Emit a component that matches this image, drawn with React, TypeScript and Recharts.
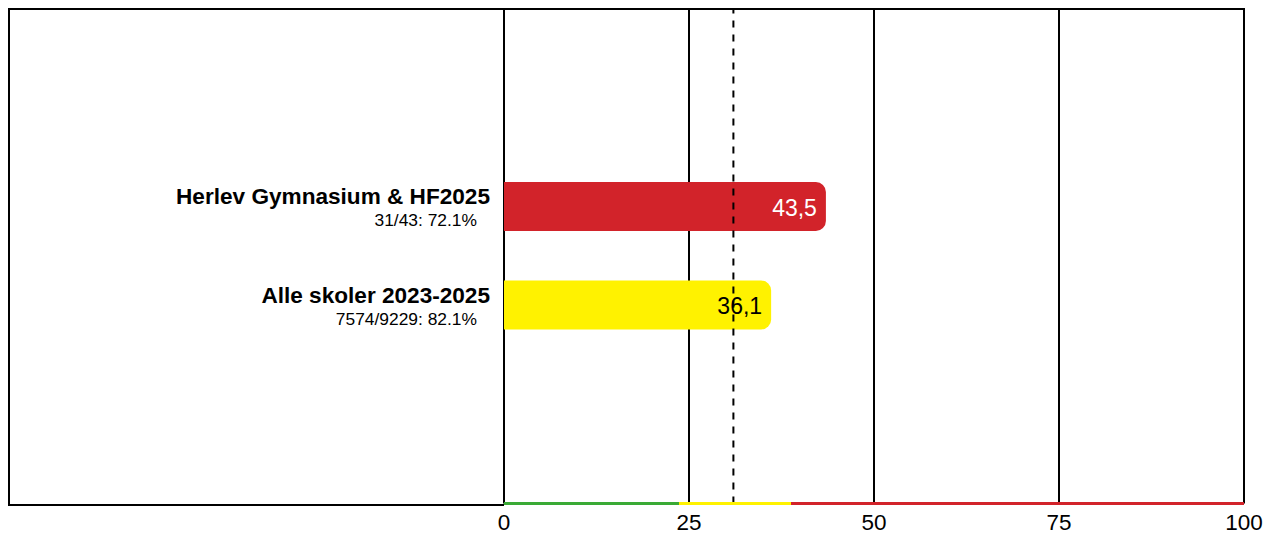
import React from "react";
import {
  BarChart,
  Bar,
  XAxis,
  YAxis,
  CartesianGrid,
  ReferenceLine,
  Cell,
  LabelList,
  Customized,
} from "recharts";

// ---- data ----
const categories = ["Herlev Gymnasium & HF2025", "Alle skoler 2023-2025"];
const subLabels = ["31/43: 72.1%", "7574/9229: 82.1%"];
const values = [43.5, 36.1];
const barColors = ["#D2232A", "#FFF200"];
const labelColors = ["#FFFFFF", "#000000"];
const xTicks = [0, 25, 50, 75, 100];
const xDomain = [0, 100];
const referenceValue = 31;
const bandStops = [0, 23.6, 38.8, 100];
const bandColors = ["#3AAA35", "#FFF200", "#D2232A"];

const data = categories.map((name, i) => ({ name, value: values[i], sub: subLabels[i] }));

// ---- layout ----
const W = 1256;
const H = 525;
const LEFT = 496;
const RIGHT = 20;
const XAXIS_H = 29.5;
const PLOT_BOTTOM = H - XAXIS_H;
const FRAME_BOTTOM = 497;
const FONT = "'Liberation Sans', Arial, Helvetica, sans-serif";

const CategoryTick = (props: any) => {
  const { x, y, payload } = props;
  const idx = categories.indexOf(payload.value);
  return (
    <g>
      <text x={x} y={y - 2} textAnchor="end" fontFamily={FONT} fontSize={22.6} fontWeight="bold" fill="#000">
        {payload.value}
      </text>
      <text x={x - 13} y={y + 20} textAnchor="end" fontFamily={FONT} fontSize={17.4} fill="#000">
        {idx >= 0 ? subLabels[idx] : ""}
      </text>
    </g>
  );
};

const ValueLabel = (props: any) => {
  const { x, y, width, height, value } = props;
  const idx = values.indexOf(value);
  return (
    <text
      x={x + width - 9}
      y={y + height / 2 + 1}
      textAnchor="end"
      dominantBaseline="central"
      fontFamily={FONT}
      fontSize={23}
      fill={labelColors[idx >= 0 ? idx : 0]}
    >
      {String(value).replace(".", ",")}
    </text>
  );
};

const Frame = () => (
  <g>
    <line x1={0} y1={1} x2={W - RIGHT + 1} y2={1} stroke="#000" strokeWidth={2} />
    <line x1={1} y1={0} x2={1} y2={FRAME_BOTTOM + 1} stroke="#000" strokeWidth={2} />
    <line x1={0} y1={FRAME_BOTTOM} x2={LEFT} y2={FRAME_BOTTOM} stroke="#000" strokeWidth={2} />
  </g>
);

const span = xDomain[1] - xDomain[0];

export default function App() {
  return (
    <div style={{ padding: "8px 0 0 8px", width: W, height: H }}>
      <style>{`html,body{margin:0;padding:0;overflow:hidden}`}</style>
      <svg width={0} height={0} style={{ position: "absolute" }}>
        <defs>
          <linearGradient
            id="bandGrad"
            gradientUnits="userSpaceOnUse"
            x1={LEFT}
            y1={0}
            x2={W - RIGHT}
            y2={0}
          >
            {bandColors.map((c, i) => [
              <stop key={`a${i}`} offset={(bandStops[i] - xDomain[0]) / span} stopColor={c} />,
              <stop key={`b${i}`} offset={(bandStops[i + 1] - xDomain[0]) / span} stopColor={c} />,
            ])}
          </linearGradient>
        </defs>
      </svg>
      <BarChart
        width={W}
        height={H}
        data={data}
        layout="vertical"
        margin={{ top: 0, right: RIGHT, bottom: 0, left: 0 }}
      >
        <CartesianGrid horizontal={false} vertical={true} stroke="#000" strokeWidth={2} />
        <XAxis
          type="number"
          domain={xDomain}
          ticks={xTicks}
          height={XAXIS_H}
          axisLine={{ stroke: "url(#bandGrad)", strokeWidth: 3 }}
          tickLine={false}
          tickMargin={4.5}
          tick={{ fontFamily: FONT, fontSize: 22.5, fill: "#000" }}
          interval={0}
        />
        <YAxis
          type="category"
          dataKey="name"
          width={LEFT}
          axisLine={false}
          tickLine={false}
          tickSize={0}
          tickMargin={14}
          padding={{ top: 149, bottom: 149.5 }}
          tick={<CategoryTick />}
          interval={0}
        />
        <ReferenceLine
          x={referenceValue}
          stroke="#000"
          strokeWidth={2}
          strokeDasharray="7 7"
        />
        <Bar dataKey="value" barSize={49} radius={[0, 10, 10, 0]} isAnimationActive={false}>
          {data.map((d, i) => (
            <Cell key={d.name} fill={barColors[i]} />
          ))}
          <LabelList dataKey="value" content={<ValueLabel />} />
        </Bar>
        <Customized component={<Frame />} />
      </BarChart>
    </div>
  );
}
